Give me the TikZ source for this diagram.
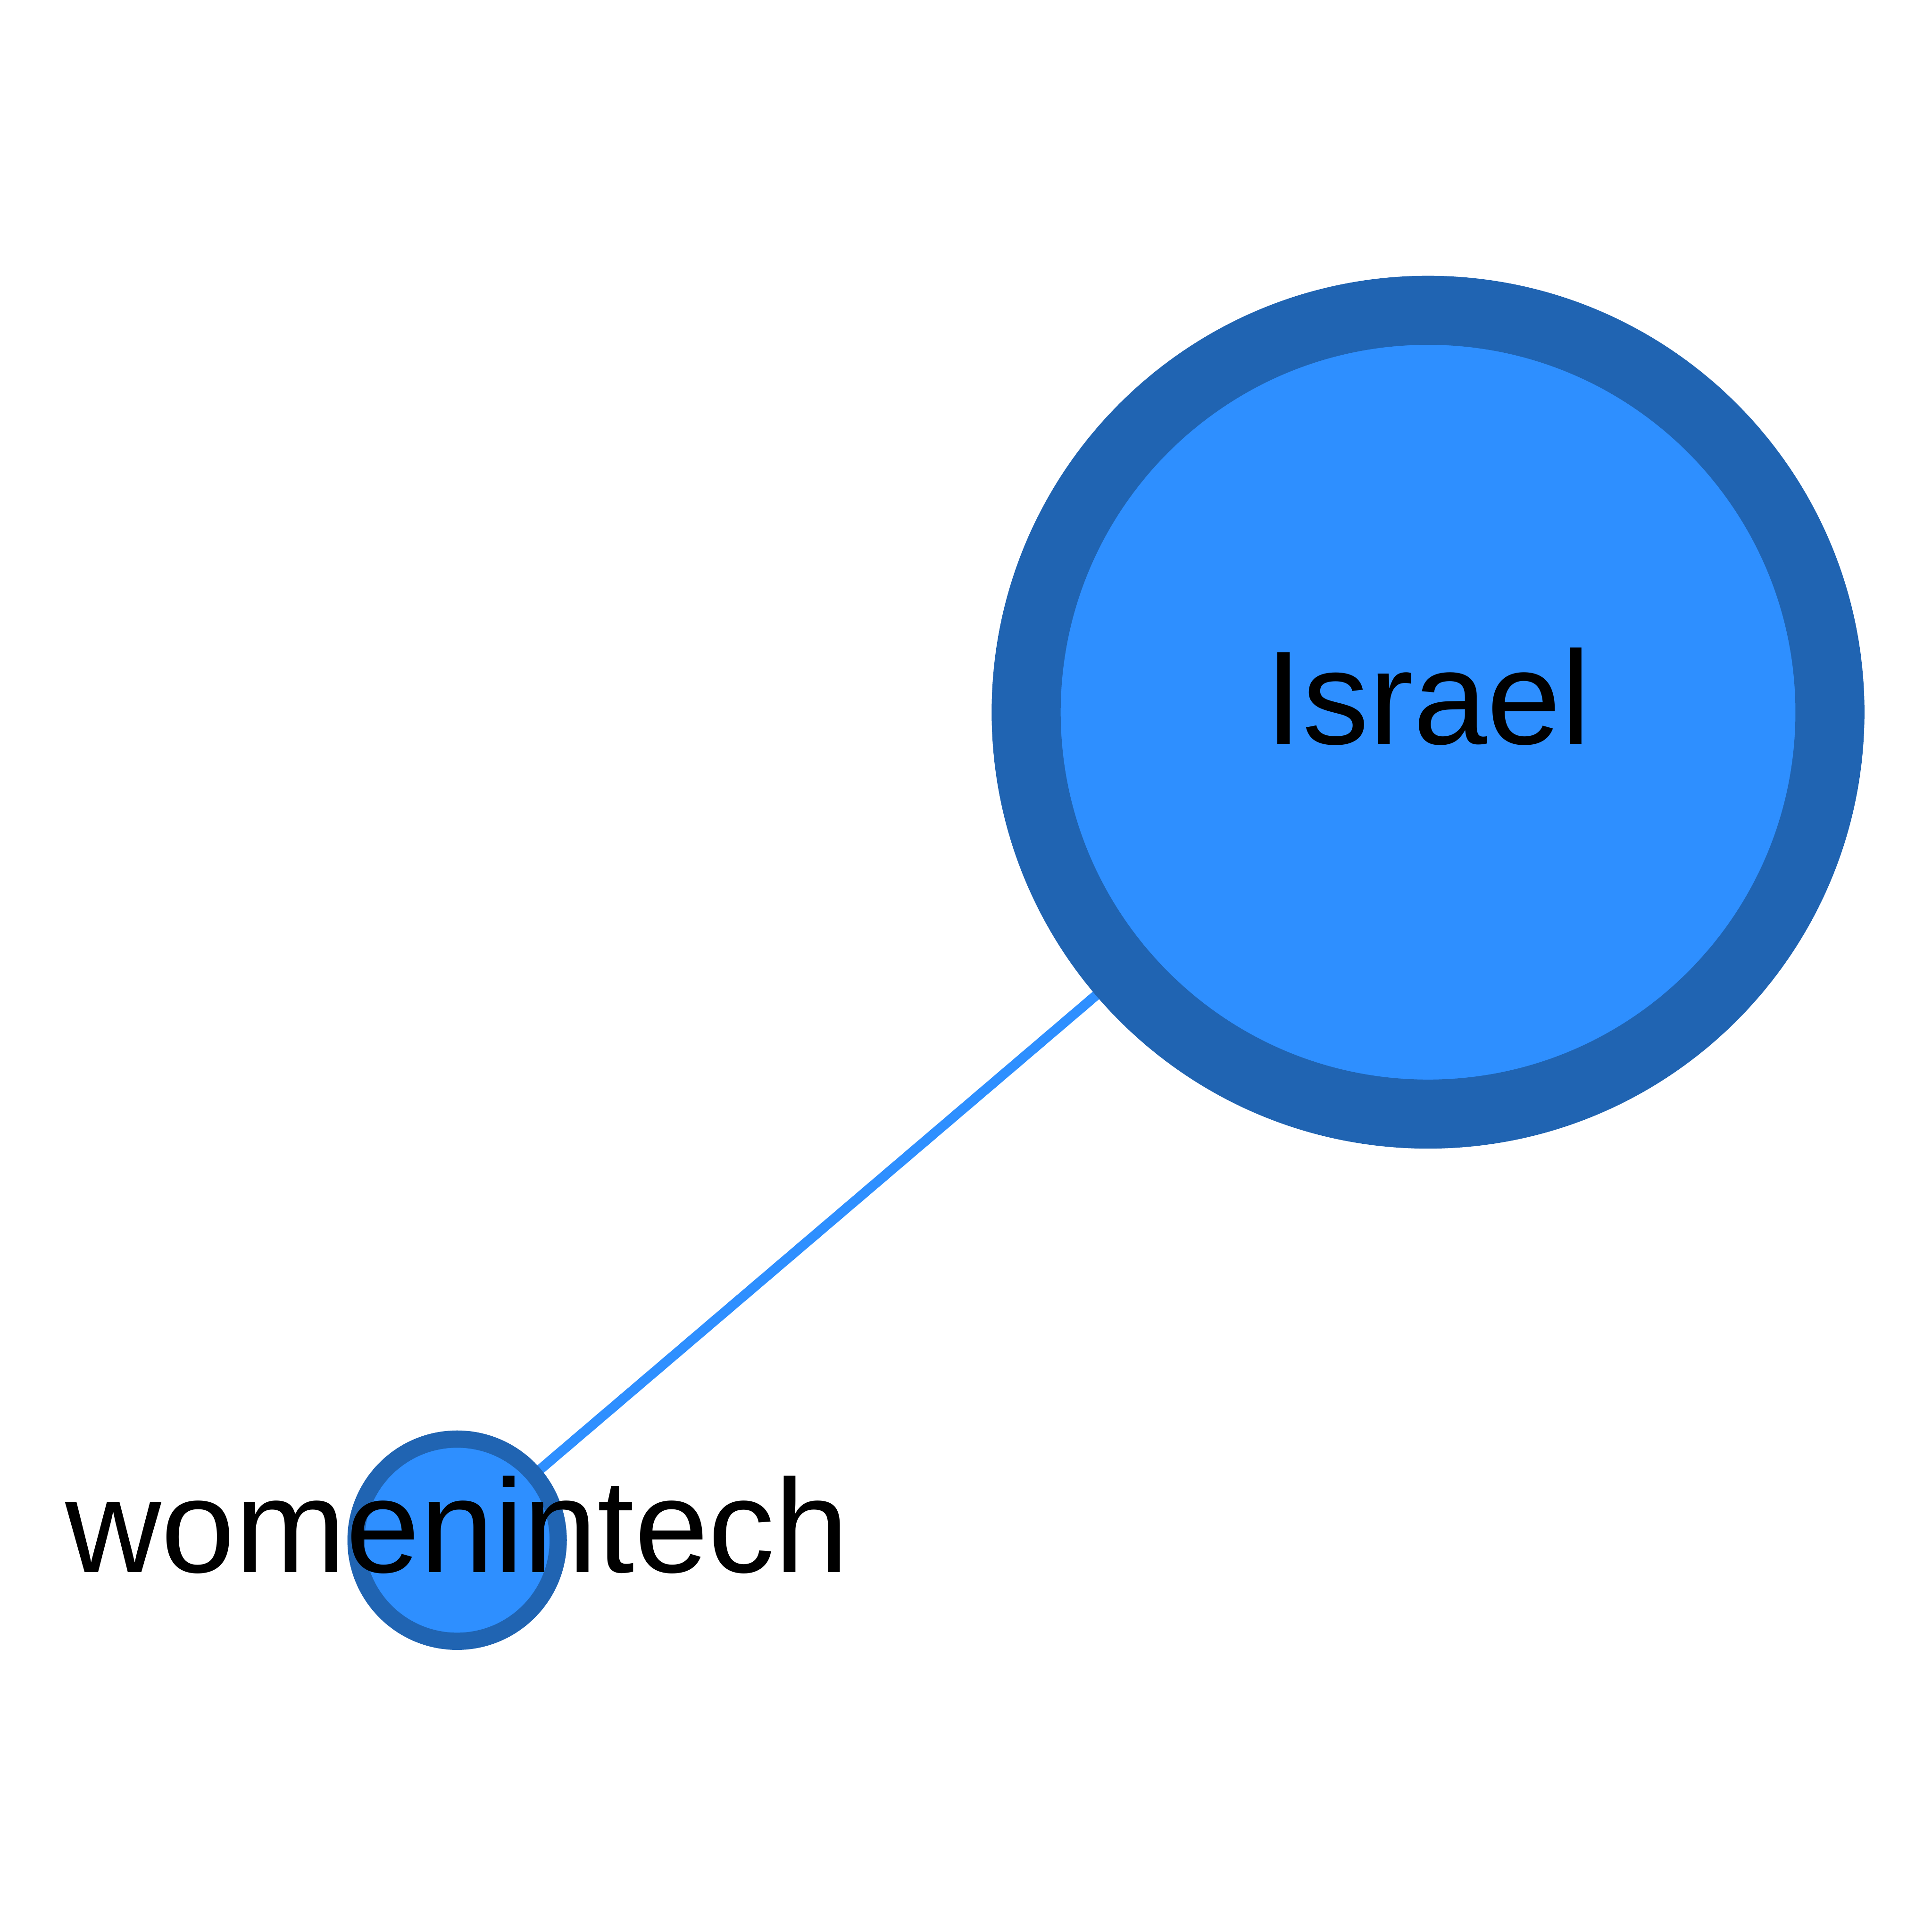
\documentclass[tikz,border=0pt]{standalone}
\usepackage{fontspec}
\setmainfont{Liberation Sans}
\usetikzlibrary{positioning, backgrounds}

\definecolor{nodefill}{RGB}{46,143,255}
\definecolor{noderim}{RGB}{32,100,178}

\begin{document}
\begin{tikzpicture}[
    x=0.01cm, y=-0.01cm,
    vertex/.style={
        circle,
        fill=nodefill,
        draw=noderim,
        inner sep=0pt
    },
    bigvertex/.style={
        vertex,
        minimum size=6.52cm,
        line width=0.56cm
    },
    smallvertex/.style={
        vertex,
        minimum size=1.64cm,
        line width=0.14cm
    },
    tag/.style={
        font=\fontsize{30.7}{36}\selectfont,
        text height=0.77cm,
        text depth=0.25cm,
        inner sep=0pt
    },
    link/.style={
        draw=nodefill,
        line width=0.08cm
    }
]

    \useasboundingbox (0,0) rectangle (1568,1568);

    % Nodes
    \node[bigvertex] (israel) at (1159,578) {};
    \node[smallvertex] (women) at (371,1250) {};

    % Edge
    \begin{scope}[on background layer]
        \draw[link] (israel.center) -- (women.center);
    \end{scope}

    % Labels
    \node[tag] (israeltag) at (israel.center) {Israel};
    \node[tag] (womentag) at (women.center) {womenintech};

\end{tikzpicture}
\end{document}
